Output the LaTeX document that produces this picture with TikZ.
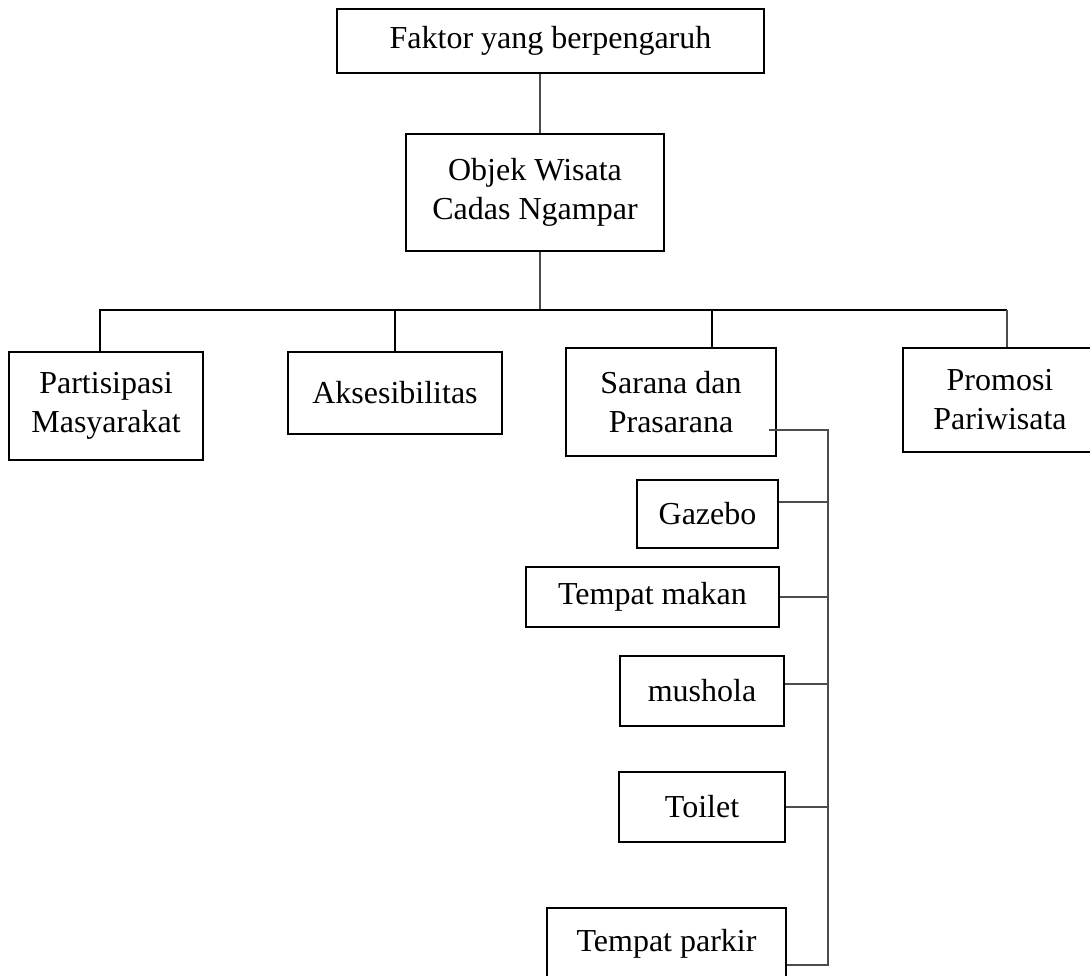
\documentclass[tikz,border=0pt]{standalone}
\usepackage{fontspec}
\setmainfont{Liberation Serif}

\begin{document}
\begin{tikzpicture}[x=0.5pt,y=-0.5pt,every node/.style = {draw, line width=1pt, align=center, shape=rectangle, inner sep=0pt, font=\fontsize{16}{19.5}\selectfont},
link/.style = {line width=0.65pt, draw=black!70},
bar/.style = {line width=1pt}]
\useasboundingbox (0,0) rectangle (1090,975);
\node[minimum width=213.5pt,minimum height=32pt] (faktor) at (550.5,41) {Faktor yang berpengaruh};
\node[minimum width=129pt,minimum height=58.5pt] (objek) at (535,192.5) {Objek Wisata\\Cadas Ngampar};
\node[minimum width=97pt,minimum height=54pt] (partisipasi) at (106,406) {Partisipasi\\Masyarakat};
\node[minimum width=107pt,minimum height=41pt] (aksesibilitas) at (395,393) {Aksesibilitas};
\node[minimum width=105pt,minimum height=54pt] (sarana) at (671,402) {Sarana dan\\Prasarana};
\node[minimum width=97pt,minimum height=52pt] (promosi) at (1000,400) {Promosi\\Pariwisata};
\node[minimum width=70.5pt,minimum height=34pt] (gazebo) at (707.5,514) {Gazebo};
\node[minimum width=126.5pt,minimum height=30pt] (makan) at (652.5,597) {Tempat makan};
\node[minimum width=82pt,minimum height=35pt] (mushola) at (702,691) {mushola};
\node[minimum width=83pt,minimum height=35pt] (toilet) at (702,807) {Toilet};
\node[minimum width=119.5pt,minimum height=36pt] (parkir) at (666.5,944) {Tempat parkir};
\coordinate (hub) at (540,310);
\coordinate (spine) at (828,430);
% top
\draw[link] (faktor.south -| hub) -- (objek.north -| hub);
\draw[link] (objek.south -| hub) -- (hub);
% factors
\draw[bar] ([xshift=-3pt]partisipasi.north) |- ([xshift=3.5pt]promosi.north |- hub);
\draw[bar] (aksesibilitas.north) -- (aksesibilitas.north |- hub);
\draw[bar] ([xshift=20.5pt]sarana.north) -- ([xshift=20.5pt]sarana.north |- hub);
\draw[link] ([xshift=3.5pt]promosi.north) -- ([xshift=3.5pt]promosi.north |- hub);
% facilities
\draw[link] ([yshift=-10.5pt]parkir.east) -| (spine) -- ([xshift=-4pt]sarana.east |- spine);
\foreach \n/\s in {gazebo/6pt,makan/0pt,mushola/3.5pt,toilet/0pt}
  \draw[link] ([yshift=\s]\n.east) -- ([yshift=\s]\n.east -| spine);
\end{tikzpicture}
\end{document}
